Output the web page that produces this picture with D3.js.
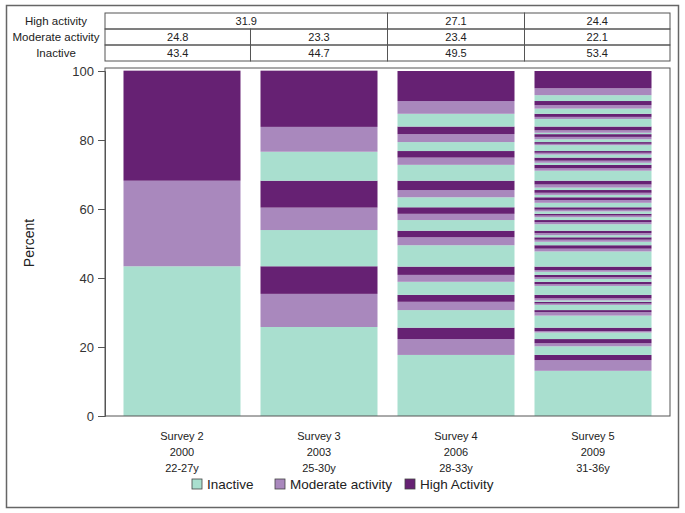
<!DOCTYPE html>
<html><head><meta charset="utf-8">
<script src="https://cdn.jsdelivr.net/npm/d3@7"></script>
<style>body{margin:0;background:#fff;} svg{display:block;font-family:"Liberation Sans",Arial,sans-serif;}</style>
</head><body>
<svg id="c" width="685" height="513"></svg>
<script>
// ---- data ----
const surveys = ["Survey 2", "Survey 3", "Survey 4", "Survey 5"];
const years = ["2000", "2003", "2006", "2009"];
const ages = ["22-27y", "25-30y", "28-33y", "31-36y"];
const categories = ["Inactive", "Moderate activity", "High Activity"];
const yTicks = [0, 20, 40, 60, 80, 100];

// summary table rows (label, cell texts, how many survey columns each cell spans)
const tableLabels = ["High activity", "Moderate activity", "Inactive"];
const highRow = ["31.9", "27.1", "24.4"];
const highSpan = [2, 1, 1];
const moderateRow = ["24.8", "23.3", "23.4", "22.1"];
const inactiveRow = ["43.4", "44.7", "49.5", "53.4"];

// segment heights (%), stacked bottom-up; each triple = Inactive, Moderate, High
const survey2 = [43.4, 24.8, 31.9];
const survey3 = [25.8, 9.6, 8.0, 10.5, 6.5, 7.8, 8.4, 7.2, 16.3];
const survey4 = [17.7, 4.6, 3.3, 5.1, 2.4, 2.0, 3.8, 2.0, 2.4,
                 6.2, 2.3, 1.9, 3.1, 1.8, 1.9, 2.9, 2.1, 2.7,
                 4.6, 2.1, 1.9, 2.6, 2.3, 2.2, 3.7, 3.7, 8.7];
const survey5 = [13.1, 3.1, 1.5, 2.5, 0.9, 1.2, 1.9, 0.4, 1.0,
                 3.5, 1.0, 0.6, 1.5, 0.4, 0.5, 0.4, 0.6, 1.0,
                 2.6, 0.5, 0.7, 0.8, 0.5, 0.7, 0.9, 0.5, 1.0,
                 4.4, 0.8, 1.0, 1.0, 0.6, 0.7, 0.6, 0.6, 0.7,
                 1.9, 0.6, 0.6, 0.8, 0.5, 0.5, 0.7, 0.5, 0.7,
                 1.3, 0.8, 0.8, 0.7, 0.6, 0.8, 0.7, 0.9, 1.1,
                 2.9, 0.7, 1.0, 0.6, 0.6, 0.9, 0.9, 0.5, 0.5,
                 1.7, 0.4, 0.5, 0.8, 0.7, 0.8, 0.4, 0.7, 1.1,
                 2.2, 0.6, 0.9, 1.5, 1.0, 1.2, 1.7, 2.0, 5.0];
const segments = [survey2, survey3, survey4, survey5];
const colors = ["#a9dfcf", "#a988bd", "#662173"];

// ---- layout ----
const svg = d3.select("#c");
const L = 105, R = 670, T = 68, B = 416;
const x = d3.scaleBand().domain(surveys).range([L, R]).paddingInner(0.146).paddingOuter(0.135);
const y = d3.scaleLinear().domain([0, 100]).range([B, 71]);
const color = d3.scaleOrdinal().domain(categories).range(colors);

// outer border
svg.append("rect").attr("x", 6.5).attr("y", 5.5).attr("width", 672).attr("height", 502)
  .attr("fill", "none").attr("stroke", "#666").attr("stroke-width", 1.5);

// bars
surveys.forEach((s, i) => {
  let cum = 0;
  const data = segments[i].map((v, j) => { const d = {y0: cum, y1: cum + v, cat: categories[j % 3]}; cum += v; return d; });
  svg.append("g").selectAll("rect").data(data).join("rect")
    .attr("x", x(s)).attr("width", x.bandwidth())
    .attr("y", d => y(d.y1)).attr("height", d => y(d.y0) - y(d.y1))
    .attr("fill", d => color(d.cat));
});

// plot frame
svg.append("rect").attr("x", L).attr("y", T).attr("width", R - L).attr("height", B - T)
  .attr("fill", "none").attr("stroke", "#555").attr("stroke-width", 1);

// y axis
const yAxis = svg.append("g").attr("transform", `translate(${L},0)`)
  .call(d3.axisLeft(y).tickValues(yTicks).tickSize(7).tickPadding(4));
yAxis.select(".domain").attr("stroke", "#555");
yAxis.selectAll(".tick line").attr("stroke", "#555");
yAxis.selectAll(".tick text").attr("font-size", 13).attr("fill", "#333").style("font-family", "Liberation Sans, Arial, sans-serif");

svg.append("text").attr("transform", "translate(34,243) rotate(-90)").attr("text-anchor", "middle")
  .attr("font-size", 14).attr("fill", "#222").text("Percent");

// x labels (3 lines)
const xl = svg.append("g");
surveys.forEach((s, i) => {
  const cx = x(s) + x.bandwidth() / 2;
  [surveys[i], years[i], ages[i]].forEach((t, k) => {
    xl.append("text").attr("x", cx).attr("y", 440 + k * 16).attr("text-anchor", "middle")
      .attr("font-size", 11).attr("fill", "#222").text(t);
  });
});

// legend
const leg = svg.append("g");
const legX = [192, 275, 405];
categories.forEach((c, i) => {
  leg.append("rect").attr("x", legX[i]).attr("y", 479).attr("width", 10).attr("height", 10)
    .attr("fill", color(c)).attr("stroke", "#444").attr("stroke-width", 0.8);
  leg.append("text").attr("x", legX[i] + 15).attr("y", 489).attr("font-size", 13.5).attr("fill", "#222").text(c);
});

// summary table
const colEdges = [L].concat(surveys.slice(0, 3).map((s, i) => (x(s) + x.bandwidth() + x(surveys[i + 1])) / 2)).concat([R]);
const rowTop = 13, rowH = 16;
const tg = svg.append("g");
function cellRow(texts, spans, r) {
  let c = 0;
  texts.forEach((t, k) => {
    const sp = spans[k];
    const x0 = colEdges[c], x1 = colEdges[c + sp];
    tg.append("rect").attr("x", x0).attr("y", rowTop + r * rowH).attr("width", x1 - x0).attr("height", rowH)
      .attr("fill", "none").attr("stroke", "#555").attr("stroke-width", 1);
    tg.append("text").attr("x", (x0 + x1) / 2).attr("y", rowTop + r * rowH + 12).attr("text-anchor", "middle")
      .attr("font-size", 11).attr("fill", "#222").text(t);
    c += sp;
  });
}
cellRow(highRow, highSpan, 0);
cellRow(moderateRow, [1, 1, 1, 1], 1);
cellRow(inactiveRow, [1, 1, 1, 1], 2);
tableLabels.forEach((t, r) => {
  tg.append("text").attr("x", 56).attr("y", rowTop + r * rowH + 12).attr("text-anchor", "middle")
    .attr("font-size", 11.5).attr("fill", "#222").text(t);
});
</script>
</body></html>
